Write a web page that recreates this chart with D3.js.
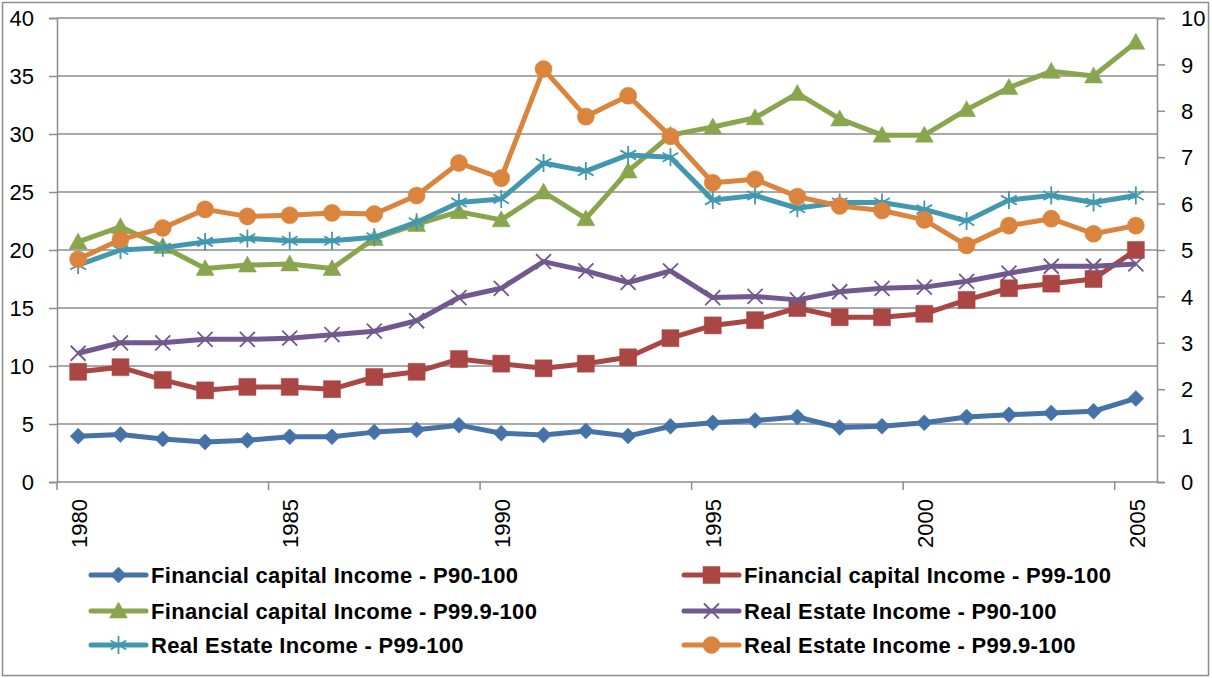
<!DOCTYPE html>
<html lang="en">
<head>
    <meta charset="UTF-8">
    <title>Capital income shares</title>
    <script src="https://cdn.jsdelivr.net/npm/d3@7"></script>
    <style>
        body { margin: 0; background: #fff; }
        .tick text { font-family: "Liberation Sans", Arial, sans-serif; font-size: 22px; fill: #000; }
        .legend text { font-family: "Liberation Sans", Arial, sans-serif; font-size: 22px; font-weight: bold; letter-spacing: 0.3px; fill: #000; }
    </style>
</head>
<body>
    <svg width="1212" height="678"></svg>
    <script>
        // data (left-axis units)
        const years = d3.range(1980, 2006).map(String);
        const fcP90   = [3.95, 4.1, 3.7, 3.45, 3.6, 3.9, 3.9, 4.3, 4.5, 4.9, 4.2, 4.05, 4.4, 3.97, 4.8, 5.1, 5.3, 5.6, 4.7, 4.8, 5.1, 5.6, 5.8, 5.95, 6.1, 7.2];
        const fcP99   = [9.5, 9.9, 8.8, 7.9, 8.2, 8.2, 8.0, 9.05, 9.5, 10.6, 10.2, 9.8, 10.2, 10.75, 12.4, 13.5, 13.95, 15.0, 14.2, 14.2, 14.5, 15.7, 16.7, 17.1, 17.5, 20.0];
        const fcP999  = [20.7, 22.0, 20.3, 18.4, 18.7, 18.8, 18.4, 21.0, 22.2, 23.3, 22.6, 25.0, 22.7, 26.8, 29.9, 30.6, 31.4, 33.5, 31.3, 29.9, 29.9, 32.1, 34.0, 35.4, 35.0, 37.9];
        const reP90   = [11.1, 12.0, 12.0, 12.3, 12.3, 12.4, 12.7, 13.0, 13.9, 15.9, 16.7, 19.0, 18.2, 17.2, 18.2, 15.9, 16.0, 15.7, 16.4, 16.7, 16.8, 17.3, 18.0, 18.6, 18.6, 18.8];
        const reP99   = [18.7, 20.0, 20.2, 20.7, 21.0, 20.8, 20.8, 21.1, 22.4, 24.1, 24.4, 27.5, 26.8, 28.2, 28.0, 24.3, 24.7, 23.6, 24.1, 24.1, 23.5, 22.5, 24.3, 24.7, 24.1, 24.7];
        const reP999  = [19.2, 20.9, 21.9, 23.5, 22.9, 23.0, 23.2, 23.1, 24.7, 27.5, 26.2, 35.6, 31.5, 33.3, 29.8, 25.8, 26.1, 24.6, 23.8, 23.4, 22.6, 20.4, 22.1, 22.7, 21.4, 22.1];
        const leftTicks = [0, 5, 10, 15, 20, 25, 30, 35, 40];
        const rightTicks = d3.range(0, 11);
        const yearLabels = ["1980", "1985", "1990", "1995", "2000", "2005"];

        const series = [
            {name: "Financial capital Income - P90-100",   values: fcP90,  color: "#4572A7", marker: "diamond"},
            {name: "Financial capital Income - P99-100",   values: fcP99,  color: "#AA4643", marker: "square"},
            {name: "Financial capital Income - P99.9-100", values: fcP999, color: "#89A54E", marker: "triangle"},
            {name: "Real Estate Income - P90-100",         values: reP90,  color: "#71588F", marker: "cross"},
            {name: "Real Estate Income - P99-100",         values: reP99,  color: "#4198AF", marker: "star"},
            {name: "Real Estate Income - P99.9-100",       values: reP999, color: "#DB843D", marker: "circle"}
        ];

        const svg = d3.select("svg");
        const L = 57, R = 1157, T = 18, B = 482;

        svg.append("rect").attr("x", 2.5).attr("y", 2.5).attr("width", 1206).attr("height", 673)
            .attr("fill", "#fff").attr("stroke", "#8c8c8c").attr("stroke-width", 1.5);

        const x = d3.scaleBand().domain(years).range([L, R]);
        const cx = d => x(d) + x.bandwidth() / 2;
        const y = d3.scaleLinear().domain([0, 40]).range([B, T]);
        const y2 = d3.scaleLinear().domain([0, 10]).range([B, T]);

        // gridlines
        svg.append("g").selectAll("line").data(leftTicks.slice(1)).join("line")
            .attr("x1", L).attr("x2", R).attr("y1", d => y(d)).attr("y2", d => y(d))
            .attr("stroke", "#8c8c8c").attr("stroke-width", 1.5);

        // left axis
        const gl = svg.append("g").attr("transform", `translate(${L},0)`)
            .call(d3.axisLeft(y).tickValues(leftTicks).tickSize(8).tickPadding(15));
        // right axis
        const gr = svg.append("g").attr("transform", `translate(${R},0)`)
            .call(d3.axisRight(y2).tickValues(rightTicks).tickSize(8).tickPadding(16));
        [gl, gr].forEach(g => {
            g.selectAll(".domain, .tick line").attr("stroke", "#8c8c8c").attr("stroke-width", 1.5);
            g.selectAll(".tick text").attr("dy", "0.35em");
        });

        // bottom axis: ticks on band boundaries, labels at category centres
        const gb = svg.append("g").attr("transform", `translate(0,${B})`);
        gb.append("line").attr("x1", L).attr("x2", R).attr("stroke", "#8c8c8c").attr("stroke-width", 1.5);
        gb.selectAll(".btick").data(yearLabels).join("line").attr("class", "btick")
            .attr("x1", d => x(d)).attr("x2", d => x(d)).attr("y1", 0).attr("y2", 8)
            .attr("stroke", "#8c8c8c").attr("stroke-width", 1.5);
        gb.selectAll("text").data(yearLabels).join("text")
            .attr("transform", d => `translate(${cx(d) + 1},17) rotate(-90)`)
            .attr("text-anchor", "end").attr("dy", "0.35em")
            .style("font-family", "'Liberation Sans', Arial, sans-serif").style("font-size", "22px")
            .text(d => d);

        function markerPath(type) {
            switch (type) {
                case "diamond": return "M0,-8L8,0L0,8L-8,0Z";
                case "square": return "M-8.5,-8.5H8.5V8.5H-8.5Z";
                case "triangle": return "M0,-9L9,7H-9Z";
                case "circle": return d3.symbol(d3.symbolCircle, 230)();
                case "cross": return "M-7.5,-7.5L7.5,7.5M-7.5,7.5L7.5,-7.5";
                case "star": return "M0,-9V9M-7.8,-4.5L7.8,4.5M-7.8,4.5L7.8,-4.5";
            }
        }
        function drawMarker(sel, s) {
            const open = s.marker === "cross" || s.marker === "star";
            sel.append("path").attr("d", markerPath(s.marker))
                .attr("fill", open ? "none" : s.color)
                .attr("stroke", s.color)
                .attr("stroke-width", open ? 1.8 : 0.5);
        }

        const line = d3.line().x(d => cx(d.year)).y(d => y(d.v));
        series.forEach(s => {
            const pts = years.map((yr, i) => ({year: yr, v: s.values[i]}));
            const g = svg.append("g");
            g.append("path").datum(pts).attr("d", line)
                .attr("fill", "none").attr("stroke", s.color).attr("stroke-width", 5)
                .attr("stroke-linejoin", "round");
            pts.forEach(p => {
                const m = g.append("g").attr("transform", `translate(${cx(p.year)},${y(p.v)})`);
                drawMarker(m, s);
            });
        });

        // legend
        const legend = svg.append("g").attr("class", "legend");
        const colX = [91, 684], rowY = [575, 611, 645];
        series.forEach((s, i) => {
            const lx = colX[i % 2], ly = rowY[Math.floor(i / 2)];
            const g = legend.append("g").attr("transform", `translate(${lx},${ly})`);
            g.append("line").attr("x1", 0).attr("x2", 55).attr("stroke", s.color)
                .attr("stroke-width", 5).attr("stroke-linecap", "round");
            drawMarker(g.append("g").attr("transform", "translate(27.5,0)"), s);
            g.append("text").attr("x", 60).attr("dy", "0.36em").text(s.name);
        });
    </script>
</body>
</html>
